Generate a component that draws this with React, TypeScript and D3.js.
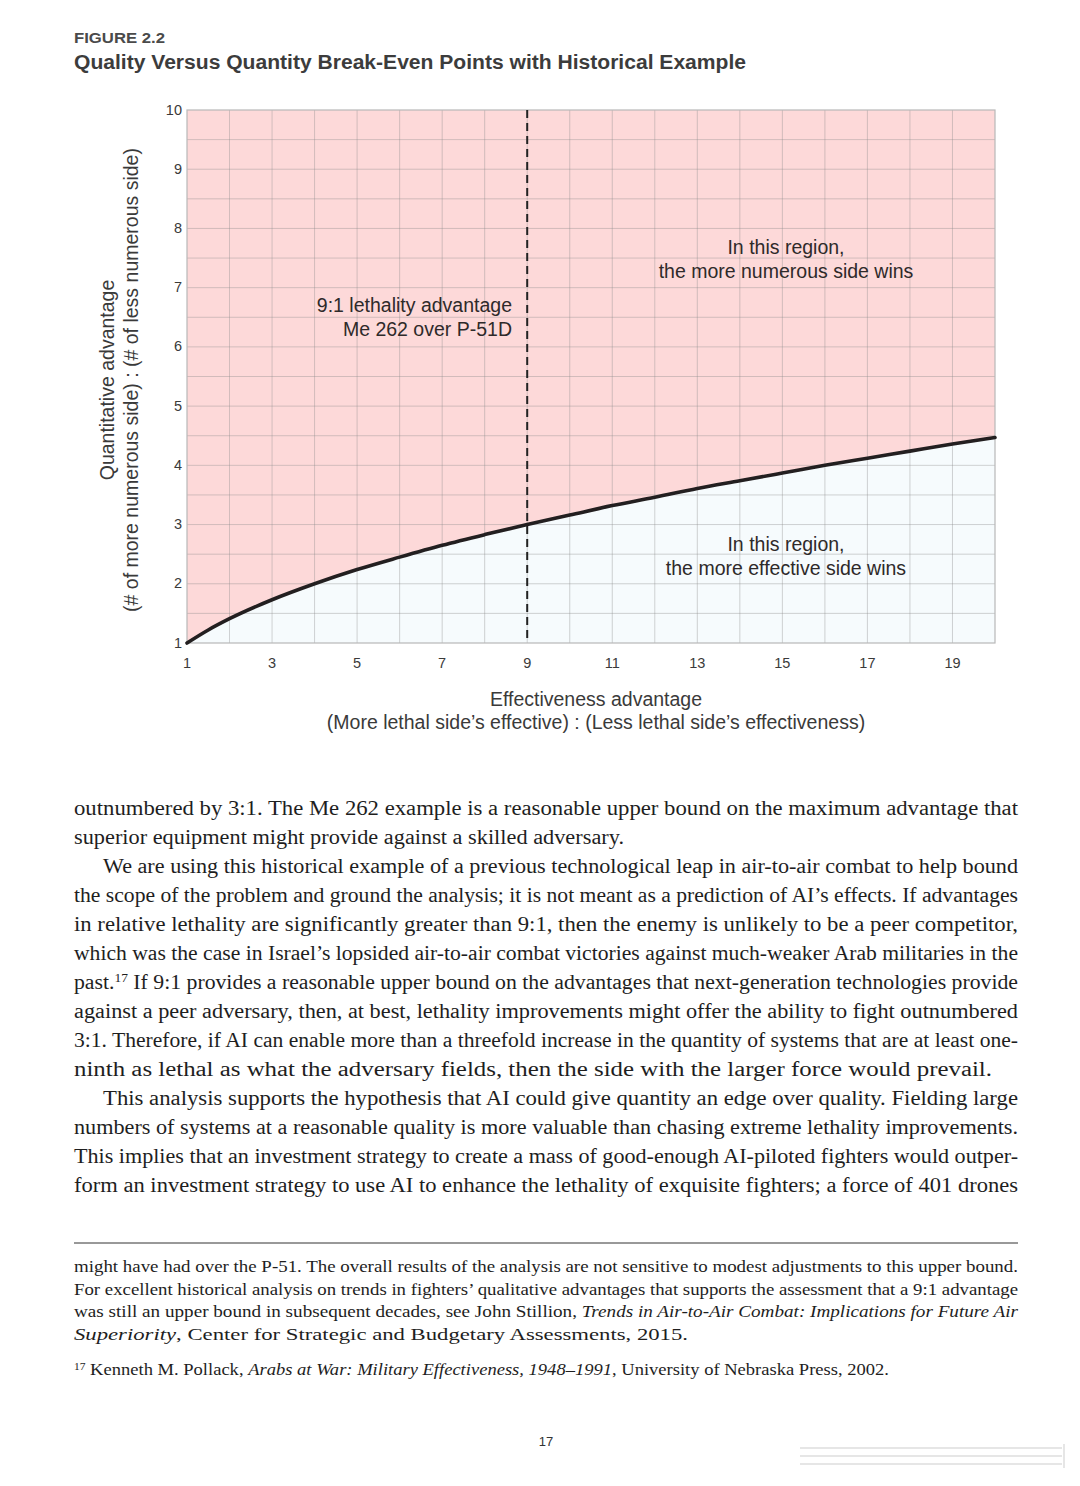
import * as d3 from "d3";

// break-even curve
const effectiveness = [1, 1.5, 2, 3, 4, 5, 6, 7, 8, 9, 10, 11, 12, 13, 14, 15, 16, 17, 18, 19, 20];
const breakEven = [1, 1.22, 1.41, 1.73, 2.0, 2.24, 2.45, 2.65, 2.83, 3.0, 3.16, 3.32, 3.46, 3.61, 3.74, 3.87, 4.0, 4.12, 4.24, 4.36, 4.47];

const xTicks = [1, 3, 5, 7, 9, 11, 13, 15, 17, 19];
const yTicks = [1, 2, 3, 4, 5, 6, 7, 8, 9, 10];
const historicalExample = 9;

type Seg = { t: string; i?: boolean; sup?: boolean };
type Line = { segs: Seg[]; indent?: boolean; width?: number };

const bodyLines: Line[] = [
  { segs: [{ t: "outnumbered by 3:1. The Me 262 example is a reasonable upper bound on the maximum advantage that" }] },
  { segs: [{ t: "superior equipment might provide against a skilled adversary." }], width: 550 },
  { segs: [{ t: "We are using this historical example of a previous technological leap in air-to-air combat to help bound" }], indent: true },
  { segs: [{ t: "the scope of the problem and ground the analysis; it is not meant as a prediction of AI’s effects. If advantages" }] },
  { segs: [{ t: "in relative lethality are significantly greater than 9:1, then the enemy is unlikely to be a peer competitor," }] },
  { segs: [{ t: "which was the case in Israel’s lopsided air-to-air combat victories against much-weaker Arab militaries in the" }] },
  { segs: [{ t: "past." }, { t: "17", sup: true }, { t: " If 9:1 provides a reasonable upper bound on the advantages that next-generation technologies provide" }] },
  { segs: [{ t: "against a peer adversary, then, at best, lethality improvements might offer the ability to fight outnumbered" }] },
  { segs: [{ t: "3:1. Therefore, if AI can enable more than a threefold increase in the quantity of systems that are at least one-" }] },
  { segs: [{ t: "ninth as lethal as what the adversary fields, then the side with the larger force would prevail." }], width: 918 },
  { segs: [{ t: "This analysis supports the hypothesis that AI could give quantity an edge over quality. Fielding large" }], indent: true },
  { segs: [{ t: "numbers of systems at a reasonable quality is more valuable than chasing extreme lethality improvements." }] },
  { segs: [{ t: "This implies that an investment strategy to create a mass of good-enough AI-piloted fighters would outper-" }] },
  { segs: [{ t: "form an investment strategy to use AI to enhance the lethality of exquisite fighters; a force of 401 drones" }] },
];

const noteLines: Line[] = [
  { segs: [{ t: "might have had over the P-51. The overall results of the analysis are not sensitive to modest adjustments to this upper bound." }] },
  { segs: [{ t: "For excellent historical analysis on trends in fighters’ qualitative advantages that supports the assessment that a 9:1 advantage" }] },
  { segs: [{ t: "was still an upper bound in subsequent decades, see John Stillion, " }, { t: "Trends in Air-to-Air Combat: Implications for Future Air", i: true }] },
  { segs: [{ t: "Superiority", i: true }, { t: ", Center for Strategic and Budgetary Assessments, 2015." }], width: 614 },
];

const note17: Seg[] = [
  { t: "17", sup: true },
  { t: "  Kenneth M. Pollack, " },
  { t: "Arabs at War: Military Effectiveness, 1948–1991", i: true },
  { t: ", University of Nebraska Press, 2002." },
];

const SANS = "'Liberation Sans', Arial, Helvetica, sans-serif";
const SERIF = "'Liberation Serif', 'DejaVu Serif', serif";

function Para({ line, x, y, size, full }: { line: Line; x: number; y: number; size: number; full: number }) {
  const x0 = line.indent ? x + 29 : x;
  const w = line.width ?? full - (x0 - x);
  return (
    <text x={x0} y={y} fontFamily={SERIF} fontSize={size} fill="#1e1e1e" textLength={w} lengthAdjust="spacingAndGlyphs">
      {line.segs.map((s, k) => (
        <tspan key={k} fontStyle={s.i ? "italic" : "normal"} fontSize={s.sup ? size * 0.62 : size} baselineShift={s.sup ? "super" : undefined}>
          {s.t}
        </tspan>
      ))}
    </text>
  );
}

export default function App() {
  const W = 1080;
  const H = 1486;
  const left = 187, right = 995, top = 110, bottom = 643;

  const x = d3.scaleLinear().domain([1, 20]).range([left, right]);
  const y = d3.scaleLinear().domain([1, 10]).range([bottom, top]);

  const pts: [number, number][] = effectiveness.map((e, i) => [e, breakEven[i]]);
  const line = d3.line<[number, number]>().x((d) => x(d[0])).y((d) => y(d[1])).curve(d3.curveMonotoneX);
  const area = d3
    .area<[number, number]>()
    .x((d) => x(d[0]))
    .y0(bottom)
    .y1((d) => y(d[1]))
    .curve(d3.curveMonotoneX);

  const vGrid = d3.range(2, 20, 1);
  const hGrid = d3.range(1.5, 10, 0.5);

  return (
    <svg width={W} height={H} style={{ position: "absolute", left: 0, top: 0, background: "#fff" }}>
      {/* header */}
      <text x={74} y={43} fontFamily={SANS} fontWeight="bold" fontSize={14.5} fill="#4a4a4a" textLength={91} lengthAdjust="spacingAndGlyphs">
        FIGURE 2.2
      </text>
      <text x={74} y={69} fontFamily={SANS} fontWeight="bold" fontSize={20} fill="#3c3c3c" textLength={672} lengthAdjust="spacingAndGlyphs">
        Quality Versus Quantity Break-Even Points with Historical Example
      </text>

      {/* regions */}
      <rect x={left} y={top} width={right - left} height={bottom - top} fill="#fdd9d9" />
      <path d={area(pts) ?? ""} fill="#f6fbfd" />

      {/* grid */}
      <g stroke="#8c8c8c" strokeOpacity={0.38} strokeWidth={1}>
        {vGrid.map((v) => (
          <line key={"v" + v} x1={x(v)} x2={x(v)} y1={top} y2={bottom} />
        ))}
        {hGrid.map((v) => (
          <line key={"h" + v} x1={left} x2={right} y1={y(v)} y2={y(v)} />
        ))}
      </g>
      <rect x={left} y={top} width={right - left} height={bottom - top} fill="none" stroke="#b8b8b8" strokeWidth={1.2} />

      {/* historical example */}
      <line x1={x(historicalExample)} x2={x(historicalExample)} y1={top} y2={bottom} stroke="#222" strokeWidth={2} strokeDasharray="8,5" />

      {/* break-even curve */}
      <path d={line(pts) ?? ""} fill="none" stroke="#231f20" strokeWidth={3.6} strokeLinecap="round" />

      {/* ticks */}
      <g fontFamily={SANS} fontSize={14.5} fill="#3a3a3a">
        {yTicks.map((t) => (
          <text key={"y" + t} x={left - 5} y={y(t)} dy="0.05em" textAnchor="end" dominantBaseline="middle">
            {t}
          </text>
        ))}
        {xTicks.map((t) => (
          <text key={"x" + t} x={x(t)} y={668} textAnchor="middle">
            {t}
          </text>
        ))}
      </g>

      {/* axis titles */}
      <g fontFamily={SANS} fontSize={19.5} fill="#3a3a3a" textAnchor="middle">
        <text transform="translate(114,380) rotate(-90)">Quantitative advantage</text>
        <text transform="translate(138,380) rotate(-90)">(# of more numerous side) : (# of less numerous side)</text>
        <text x={596} y={706}>Effectiveness advantage</text>
        <text x={596} y={729}>(More lethal side’s effective) : (Less lethal side’s effectiveness)</text>
      </g>

      {/* annotations */}
      <g fontFamily={SANS} fontSize={19.5} fill="#2e2a2a">
        <text x={512} y={312} textAnchor="end">9:1 lethality advantage</text>
        <text x={512} y={336} textAnchor="end">Me 262 over P-51D</text>
        <text x={786} y={254} textAnchor="middle">In this region,</text>
        <text x={786} y={278} textAnchor="middle">the more numerous side wins</text>
        <text x={786} y={551} textAnchor="middle">In this region,</text>
        <text x={786} y={575} textAnchor="middle">the more effective side wins</text>
      </g>

      {/* body text */}
      {bodyLines.map((l, i) => (
        <Para key={"b" + i} line={l} x={74} y={815 + i * 29} size={20.5} full={944} />
      ))}

      <line x1={74} x2={1018} y1={1243} y2={1243} stroke="#333" strokeWidth={1} />

      {noteLines.map((l, i) => (
        <Para key={"n" + i} line={l} x={74} y={1272 + i * 22.7} size={16.5} full={944} />
      ))}
      <Para line={{ segs: note17, width: 815 }} x={74} y={1375} size={16.5} full={944} />

      <text x={546} y={1446} fontFamily={SANS} fontSize={13} fill="#333" textAnchor="middle">
        17
      </text>

      {/* faint scan artifact bottom right */}
      <g stroke="#e6e6e6" strokeWidth={2}>
        <line x1={800} x2={1062} y1={1448} y2={1448} />
        <line x1={800} x2={1062} y1={1456} y2={1456} />
        <line x1={800} x2={1062} y1={1464} y2={1464} />
        <line x1={1064} x2={1064} y1={1444} y2={1468} />
      </g>
    </svg>
  );
}
